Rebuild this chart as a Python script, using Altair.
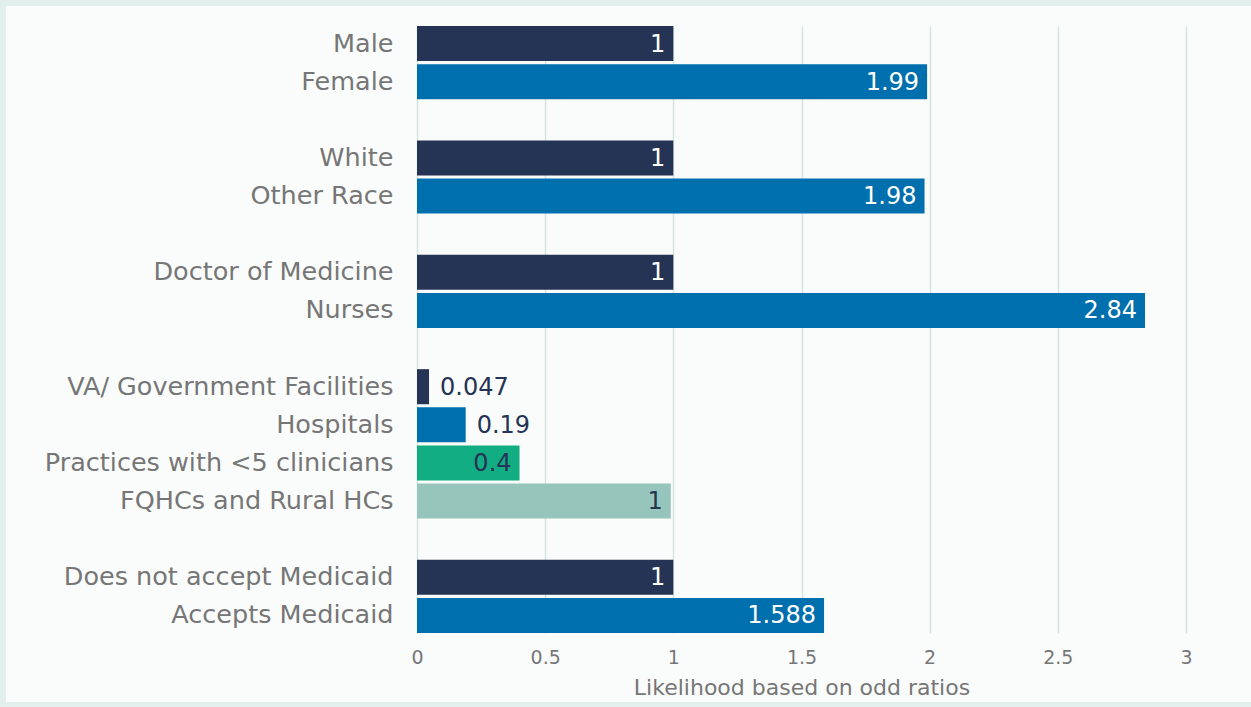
import altair as alt
import pandas as pd

categories = ["Male", "Female", "White", "Other Race", "Doctor of Medicine", "Nurses",
              "VA/ Government Facilities", "Hospitals", "Practices with <5 clinicians",
              "FQHCs and Rural HCs", "Does not accept Medicaid", "Accepts Medicaid"]
values = [1, 1.99, 1, 1.98, 1, 2.84, 0.047, 0.19, 0.4, 0.99, 1, 1.588]
labels = ["1", "1.99", "1", "1.98", "1", "2.84", "0.047", "0.19", "0.4", "1", "1", "1.588"]
series = [1, 2, 1, 2, 1, 2, 1, 2, 3, 4, 1, 2]

row_order = ["Male", "Female", "gap1", "White", "Other Race", "gap2",
             "Doctor of Medicine", "Nurses", "gap3",
             "VA/ Government Facilities", "Hospitals", "Practices with <5 clinicians",
             "FQHCs and Rural HCs", "gap4", "Does not accept Medicaid", "Accepts Medicaid"]

colors = ["#253355", "#006fad", "#13ad84", "#96c6bb"]
FONT = "DejaVu Sans"
NAVY = "#253355"
BORDER = "#e2efec"
GRAY = "#767676"

df = pd.DataFrame({"cat": categories, "value": values, "label": labels, "series": series})

base = alt.Chart(df)

y_enc = alt.Y("cat:N", scale=alt.Scale(domain=row_order, paddingInner=0.08, paddingOuter=0),
              axis=alt.Axis(title=None, labelExpr="indexof(datum.label, 'gap') == 0 ? '' : datum.label",
                            labelFontSize=25.5, labelColor=GRAY, labelFont=FONT,
                            labelPadding=24, ticks=False, domain=False, grid=False,
                            labelLimit=500))
x_enc = alt.X("value:Q", scale=alt.Scale(domain=[0, 3]),
              axis=alt.Axis(title="Likelihood based on odd ratios", values=[0, 0.5, 1, 1.5, 2, 2.5, 3],
                            format="~g", labelFontSize=19, labelColor=GRAY, labelFont=FONT,
                            labelFlush=False,
                            titleFontSize=22, titleColor=GRAY, titleFont=FONT,
                            titleFontWeight="normal", labelPadding=15, titlePadding=10,
                            ticks=False, domain=False, grid=True, gridColor="#d3e5e0",
                            gridWidth=1.5))

one = pd.DataFrame({"a": [0]})
top_strip = alt.Chart(one).mark_rect(color=BORDER).encode(
    x=alt.value(-417), x2=alt.value(834), y=alt.value(-26), y2=alt.value(-20))
left_strip = alt.Chart(one).mark_rect(color=BORDER).encode(
    x=alt.value(-417), x2=alt.value(-411), y=alt.value(-26), y2=alt.value(681))
bottom_strip = alt.Chart(one).mark_rect(color=BORDER).encode(
    x=alt.value(-417), x2=alt.value(834), y=alt.value(676), y2=alt.value(681))

bars = base.mark_bar().encode(
    y=y_enc, x=x_enc,
    color=alt.Color("series:N", scale=alt.Scale(domain=[1, 2, 3, 4], range=colors), legend=None))

inside = base.transform_filter("datum.value >= 0.3").mark_text(
    align="right", baseline="middle", dx=-8, dy=1, fontSize=24, font=FONT).encode(
    y=alt.Y("cat:N"), x=alt.X("value:Q"), text="label:N",
    color=alt.condition("datum.series <= 2", alt.value("white"), alt.value(NAVY)))

outside = base.transform_filter("datum.value < 0.3").mark_text(
    align="left", baseline="middle", dx=11, dy=1, fontSize=24, font=FONT, color=NAVY).encode(
    y=alt.Y("cat:N"), x=alt.X("value:Q"), text="label:N")

chart = alt.layer(bars, inside, outside, top_strip, left_strip, bottom_strip).properties(
    width=769, height=607,
    autosize=alt.AutoSizeParams(type="none"),
    padding={"left": 417, "top": 26, "right": 65, "bottom": 74},
    background="#fafcfb"
).configure_view(stroke=None)

chart.save("out.html", embed_options={"renderer": "svg", "actions": False})
